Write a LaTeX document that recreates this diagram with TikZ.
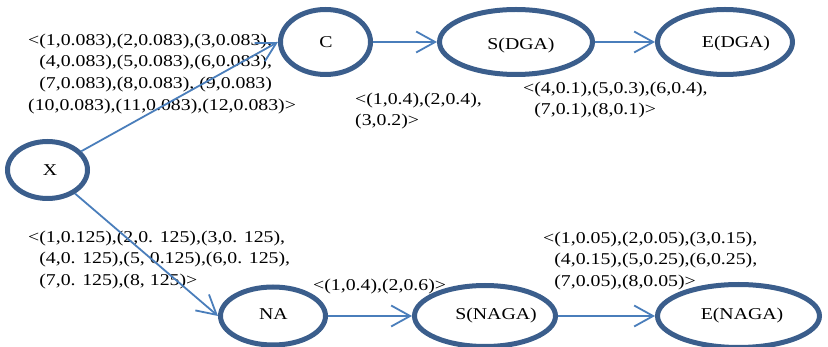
\documentclass[tikz,border=0pt]{standalone}
\usepackage{fontspec}
\setmainfont{Liberation Serif}[FakeStretch=1.2]
\usetikzlibrary{shapes.geometric,arrows.meta}
\definecolor{ovalblue}{HTML}{3B5E8C}
\definecolor{linkblue}{HTML}{4A7EBB}
\begin{document}
\begin{tikzpicture}[x=1pt,y=-1pt,
  font=\fontsize{16.5}{21.8}\selectfont,
  oval/.style={ellipse, draw=ovalblue, line width=5pt, inner sep=0pt},
  lbl/.style={inner sep=0pt, text height=0.66em, text depth=0pt},
  prob/.style={anchor=north west, align=left, inner sep=0pt},
  link/.style={draw=linkblue, line width=1.8pt,
    -{Straight Barb[length=19pt,width=21pt]}}]
\useasboundingbox (0,0) rectangle (828,347);

% states
\node[oval, minimum width=80pt, minimum height=57pt,
  label={[lbl,xshift=2.5pt,yshift=-2.5pt]center:X}] (X) at (47.5,170) {};
\node[oval, minimum width=90pt, minimum height=65pt,
  label={[lbl,xshift=0.5pt,yshift=-2pt]center:C}] (C) at (325.5,42) {};
\node[oval, minimum width=153pt, minimum height=65pt,
  label={[lbl,xshift=5pt,yshift=-4pt]center:S(DGA)}] (SDGA) at (516,42) {};
\node[oval, minimum width=135pt, minimum height=65pt,
  label={[lbl,xshift=11pt,yshift=-2pt]center:E(DGA)}] (EDGA) at (725,42) {};
\node[oval, minimum width=105pt, minimum height=58pt,
  label={[lbl,xshift=0.5pt,yshift=0pt]center:NA}] (NA) at (273,316) {};
\node[oval, minimum width=141pt, minimum height=61pt,
  label={[lbl,xshift=11pt,yshift=-0.5pt]center:S(NAGA)}] (SNAGA) at (485,316) {};
\node[oval, minimum width=162pt, minimum height=63pt,
  label={[lbl,xshift=3.5pt,yshift=-0.5pt]center:E(NAGA)}] (ENAGA) at (738.5,316) {};

% probability distributions
\node[prob] (pXC) at (28,33.5) {<(1,0.083),(2,0.083),(3,0.083),\\
  \phantom{<}(4,0.083),(5,0.083),(6,0.083),\\
  \phantom{<}(7,0.083),(8,0.083), (9,0.083)\\
  (10,0.083),(11,0.083),(12,0.083)>};
\node[prob] (pCS) at (355,92.5) {<(1,0.4),(2,0.4),\\(3,0.2)>};
\node[prob] (pSE) at (523,81.5) {<(4,0.1),(5,0.3),(6,0.4),\\
  \phantom{<}(7,0.1),(8,0.1)>};
\node[prob] (pXNA) at (28,230.5) {<(1,0.125),(2,0. 125),(3,0. 125),\\
  \phantom{<}(4,0. 125),(5, 0.125),(6,0. 125),\\
  \phantom{<}(7,0. 125),(8, 125)>};
\node[prob] (pNAS) at (313,278.5) {<(1,0.4),(2,0.6)>};
\node[prob] (pSENAGA) at (543,231.5) {<(1,0.05),(2,0.05),(3,0.15),\\
  \phantom{<}(4,0.15),(5,0.25),(6,0.25),\\
  \phantom{<}(7,0.05),(8,0.05)>};

% transitions
\draw[link] (X) -- (C.west);
\draw[link] (X) -- (NA.west);
\draw[link] (C) -- (SDGA);
\draw[link] (SDGA) -- (EDGA);
\draw[link] (NA) -- (SNAGA);
\draw[link] (SNAGA) -- (ENAGA);
\end{tikzpicture}
\end{document}
